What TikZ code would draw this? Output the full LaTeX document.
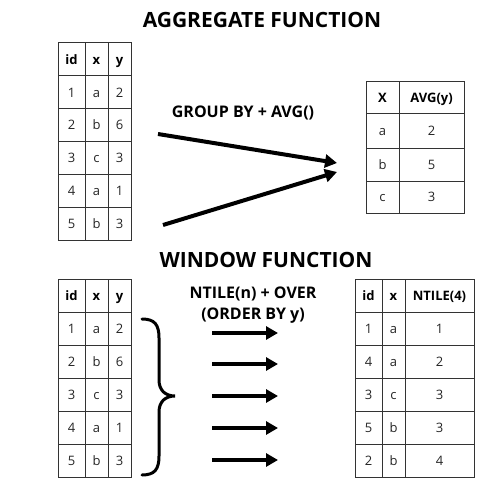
\documentclass[tikz,border=0pt]{standalone}
\usepackage{fontspec}
\setmainfont{Open Sans}
\usetikzlibrary{arrows.meta}
\newcommand{\tcell}[6]{%
  \node[cellst, minimum width={(#4-#2)*1pt}, minimum height={(#5-#3)*1pt}] (#1) at ({(#2+#4)/2},{(#3+#5)/2}) {#6};}
\newcommand{\hcell}[6]{%
  \node[cellst, font=\fontsize{13}{15}\selectfont\bfseries, text=black, minimum width={(#4-#2)*1pt}, minimum height={(#5-#3)*1pt}] (#1) at ({(#2+#4)/2},{(#3+#5)/2}) {#6};}
\begin{document}
\begin{tikzpicture}[x=1pt,y=-1pt,
  cellst/.style={draw=black!80, line width=1pt, inner sep=0pt, text height=9.3pt, text depth=0pt, font=\fontsize{13}{15}\selectfont, text=black!85},
  title/.style={font=\fontsize{21}{25}\selectfont\bfseries},
  lab/.style={font=\fontsize{16}{20.5}\selectfont\bfseries, align=center},
  bigarrow/.style={line width=4pt, -{Triangle[length=12pt,width=13pt]}},
  bracest/.style={line width=3pt, line cap=round}]
\useasboundingbox (0,0) rectangle (500,500);
\fill[white] (0,0) rectangle (500,500);
% titles
\node[title] (t1) at (262,20) {AGGREGATE FUNCTION};
\node[title] (t2) at (266,260) {WINDOW FUNCTION};
% table 1
\hcell{a-0-1}{58}{43}{85}{76}{id}
\hcell{a-0-2}{85}{43}{108}{76}{x}
\hcell{a-0-3}{108}{43}{131}{76}{y}
\tcell{a-1-1}{58}{76}{85}{109}{1}\tcell{a-1-2}{85}{76}{108}{109}{a}\tcell{a-1-3}{108}{76}{131}{109}{2}
\tcell{a-2-1}{58}{109}{85}{141}{2}\tcell{a-2-2}{85}{109}{108}{141}{b}\tcell{a-2-3}{108}{109}{131}{141}{6}
\tcell{a-3-1}{58}{141}{85}{174}{3}\tcell{a-3-2}{85}{141}{108}{174}{c}\tcell{a-3-3}{108}{141}{131}{174}{3}
\tcell{a-4-1}{58}{174}{85}{207}{4}\tcell{a-4-2}{85}{174}{108}{207}{a}\tcell{a-4-3}{108}{174}{131}{207}{1}
\tcell{a-5-1}{58}{207}{85}{240}{5}\tcell{a-5-2}{85}{207}{108}{240}{b}\tcell{a-5-3}{108}{207}{131}{240}{3}
% table 2
\hcell{b-0-1}{366}{82}{399}{114}{X}
\hcell{b-0-2}{399}{82}{464}{114}{AVG(y)}
\tcell{b-1-1}{366}{114}{399}{148}{a}\tcell{b-1-2}{399}{114}{464}{148}{2}
\tcell{b-2-1}{366}{148}{399}{181}{b}\tcell{b-2-2}{399}{148}{464}{181}{5}
\tcell{b-3-1}{366}{181}{399}{213}{c}\tcell{b-3-2}{399}{181}{464}{213}{3}
% table 3
\hcell{c-0-1}{58}{279}{85}{312}{id}
\hcell{c-0-2}{85}{279}{108}{312}{x}
\hcell{c-0-3}{108}{279}{131}{312}{y}
\tcell{c-1-1}{58}{312}{85}{345}{1}\tcell{c-1-2}{85}{312}{108}{345}{a}\tcell{c-1-3}{108}{312}{131}{345}{2}
\tcell{c-2-1}{58}{345}{85}{378}{2}\tcell{c-2-2}{85}{345}{108}{378}{b}\tcell{c-2-3}{108}{345}{131}{378}{6}
\tcell{c-3-1}{58}{378}{85}{411}{3}\tcell{c-3-2}{85}{378}{108}{411}{c}\tcell{c-3-3}{108}{378}{131}{411}{3}
\tcell{c-4-1}{58}{411}{85}{444}{4}\tcell{c-4-2}{85}{411}{108}{444}{a}\tcell{c-4-3}{108}{411}{131}{444}{1}
\tcell{c-5-1}{58}{444}{85}{477}{5}\tcell{c-5-2}{85}{444}{108}{477}{b}\tcell{c-5-3}{108}{444}{131}{477}{3}
% table 4
\hcell{d-0-1}{355}{279}{382}{312}{id}
\hcell{d-0-2}{382}{279}{405}{312}{x}
\hcell{d-0-3}{405}{279}{474}{312}{NTILE(4)}
\tcell{d-1-1}{355}{312}{382}{345}{1}\tcell{d-1-2}{382}{312}{405}{345}{a}\tcell{d-1-3}{405}{312}{474}{345}{1}
\tcell{d-2-1}{355}{345}{382}{378}{4}\tcell{d-2-2}{382}{345}{405}{378}{a}\tcell{d-2-3}{405}{345}{474}{378}{2}
\tcell{d-3-1}{355}{378}{382}{411}{3}\tcell{d-3-2}{382}{378}{405}{411}{c}\tcell{d-3-3}{405}{378}{474}{411}{3}
\tcell{d-4-1}{355}{411}{382}{444}{5}\tcell{d-4-2}{382}{411}{405}{444}{b}\tcell{d-4-3}{405}{411}{474}{444}{3}
\tcell{d-5-1}{355}{444}{382}{477}{2}\tcell{d-5-2}{382}{444}{405}{477}{b}\tcell{d-5-3}{405}{444}{474}{477}{4}
% labels
\node[lab] (g) at (243,113) {GROUP BY + AVG()};
\node[lab] (n) at (253,305) {NTILE(n) + OVER\\(ORDER BY y)};
% aggregate arrows
\coordinate (s1) at (158,134); \coordinate (e1) at (337,163);
\coordinate (s2) at (163,225); \coordinate (e2) at (337,172);
\draw[bigarrow] (s1) -- (e1);
\draw[bigarrow] (s2) -- (e2);
% brace
\coordinate (br1) at (142,319); \coordinate (brtip) at (175,396); \coordinate (br2) at (142,475);
\draw[bracest] (br1) .. controls (155,319) and (159,325) .. (159,338) -- (159,380)
  .. controls (159,390) and (165,396) .. (brtip)
  .. controls (165,396) and (159,402) .. (159,412) -- (159,456)
  .. controls (159,469) and (155,475) .. (br2);
% window arrows
\foreach \i/\yy in {1/333,2/364,3/396,4/428,5/460}{
  \coordinate (ws\i) at (212,\yy); \coordinate (we\i) at (278,\yy);
  \draw[bigarrow] (ws\i) -- (we\i);
}
\end{tikzpicture}
\end{document}
